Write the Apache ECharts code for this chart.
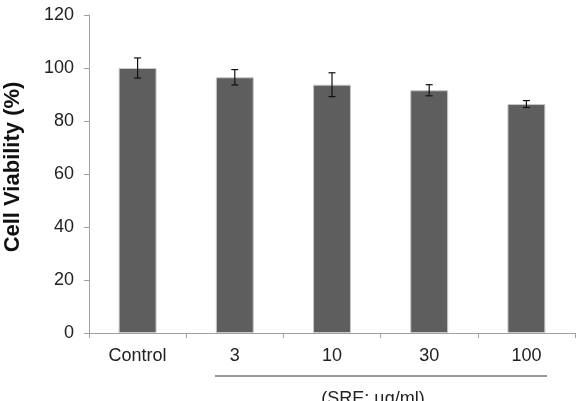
<!DOCTYPE html>
<html>
<head>
<meta charset="utf-8">
<script src="https://cdn.jsdelivr.net/npm/echarts@6/dist/echarts.min.js"></script>
<style>
  html, body { margin: 0; padding: 0; background: #fff; }
  #chart { width: 577px; height: 401px; }
</style>
</head>
<body>
<div id="chart"></div>
<script>
const categories = ['Control', '3', '10', '30', '100'];
const viability = [100, 96.5, 93.7, 91.6, 86.4];
const errors = [3.8, 2.9, 4.5, 2.1, 1.3];
const yTicks = [0, 20, 40, 60, 80, 100, 120];

const chart = echarts.init(document.getElementById('chart'));

const font = '"Liberation Sans", Arial, sans-serif';

chart.setOption({
  animation: false,
  grid: { left: 89, right: 2, top: 15, bottom: 68 },
  xAxis: {
    type: 'category',
    data: categories,
    axisLine: { lineStyle: { color: '#a0a0a0', width: 1 } },
    axisTick: { show: true, length: 5, lineStyle: { color: '#a0a0a0' } },
    axisLabel: { color: '#222', fontSize: 18, fontFamily: font, margin: 14 },
  },
  yAxis: {
    type: 'value',
    min: yTicks[0],
    max: yTicks[yTicks.length - 1],
    interval: 20,
    axisLine: { show: true, lineStyle: { color: '#a0a0a0', width: 1 } },
    axisTick: { show: true, length: 5, lineStyle: { color: '#a0a0a0' } },
    axisLabel: { color: '#222', fontSize: 18, fontFamily: font, margin: 15 },
    splitLine: { show: false },
  },
  series: [
    {
      type: 'bar',
      data: viability,
      barWidth: '39%',
      itemStyle: { color: '#5e5e5e', borderColor: '#c8c8c8', borderWidth: 1 },
    },
    {
      type: 'custom',
      data: viability.map((v, i) => [i, v - errors[i], v + errors[i]]),
      renderItem: (params, api) => {
        const lo = api.coord([api.value(0), api.value(1)]);
        const hi = api.coord([api.value(0), api.value(2)]);
        const cap = 3.5;
        const style = { stroke: '#111', lineWidth: 1.2 };
        return {
          type: 'group',
          children: [
            { type: 'line', shape: { x1: lo[0], y1: lo[1], x2: hi[0], y2: hi[1] }, style },
            { type: 'line', shape: { x1: hi[0] - cap, y1: hi[1], x2: hi[0] + cap, y2: hi[1] }, style },
            { type: 'line', shape: { x1: lo[0] - cap, y1: lo[1], x2: lo[0] + cap, y2: lo[1] }, style },
          ],
        };
      },
      z: 10,
    },
  ],
  graphic: [
    {
      type: 'text',
      x: 13,
      y: 167,
      rotation: Math.PI / 2,
      style: {
        text: 'Cell Viability (%)',
        fill: '#111',
        font: 'bold 22px "Liberation Sans", Arial, sans-serif',
        align: 'center',
        verticalAlign: 'middle',
      },
    },
    {
      type: 'line',
      shape: { x1: 215, y1: 376, x2: 547, y2: 376 },
      style: { stroke: '#333', lineWidth: 1 },
    },
    {
      type: 'text',
      x: 373,
      y: 399,
      style: {
        text: '(SRE; µg/ml)',
        fill: '#222',
        font: '18px "Liberation Sans", Arial, sans-serif',
        align: 'center',
        verticalAlign: 'middle',
      },
    },
  ],
});
</script>
</body>
</html>
